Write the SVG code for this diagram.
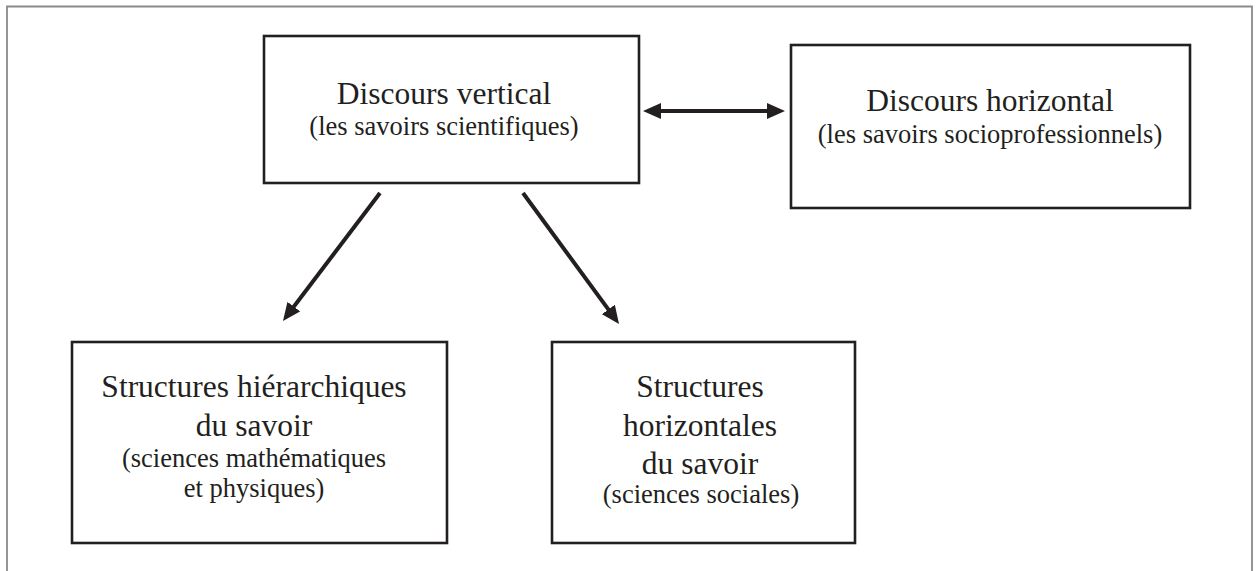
<svg xmlns="http://www.w3.org/2000/svg" width="1256" height="571" viewBox="0 0 1256 571">
  <defs>
    <style>
      .box { fill: #ffffff; stroke: #231f20; stroke-width: 2.6; }
      .frame { fill: none; stroke: #8a8a8a; stroke-width: 1.8; }
      .t { font-family: "Liberation Serif", "Times New Roman", serif; fill: #231f20; text-anchor: middle; }
      .big { font-size: 31.5px; }
      .small { font-size: 26.5px; }
      .conn { stroke: #231f20; stroke-width: 4; fill: none; }
    </style>
    <marker id="head" viewBox="0 0 18 16" refX="8" refY="8" markerWidth="18" markerHeight="16" markerUnits="userSpaceOnUse" orient="auto-start-reverse">
      <path d="M0,0 L18,8 L0,16 z" fill="#231f20"/>
    </marker>
  </defs>
  <rect x="0" y="0" width="1256" height="571" fill="#ffffff"/>
  <path class="frame" d="M7,571 L7,6.5 L1252,6.5 L1252,571"/>

  <g id="connectors">
    <line class="conn" x1="653" y1="111" x2="775" y2="111" marker-start="url(#head)" marker-end="url(#head)"/>
    <line class="conn" x1="380" y1="193" x2="289" y2="313" marker-end="url(#head)"/>
    <line class="conn" x1="523" y1="193" x2="613.1" y2="315.9" marker-end="url(#head)"/>
  </g>

  <g id="discours-vertical">
    <rect class="box" x="264" y="36" width="375" height="147"/>
    <text class="t big" x="444" y="104">Discours vertical</text>
    <text class="t small" x="444" y="135">(les savoirs scientifiques)</text>
  </g>

  <g id="discours-horizontal">
    <rect class="box" x="791" y="45" width="399" height="163"/>
    <text class="t big" x="990" y="111">Discours horizontal</text>
    <text class="t small" x="990" y="143">(les savoirs socioprofessionnels)</text>
  </g>

  <g id="structures-hierarchiques">
    <rect class="box" x="72" y="342" width="375" height="201"/>
    <text class="t big" x="254" y="397">Structures hiérarchiques</text>
    <text class="t big" x="254" y="436">du savoir</text>
    <text class="t small" x="254" y="467">(sciences mathématiques</text>
    <text class="t small" x="254" y="497">et physiques)</text>
  </g>

  <g id="structures-horizontales">
    <rect class="box" x="552" y="342" width="303" height="201"/>
    <text class="t big" x="700" y="397">Structures</text>
    <text class="t big" x="700" y="436">horizontales</text>
    <text class="t big" x="700" y="474">du savoir</text>
    <text class="t small" x="701" y="503">(sciences sociales)</text>
  </g>
</svg>
